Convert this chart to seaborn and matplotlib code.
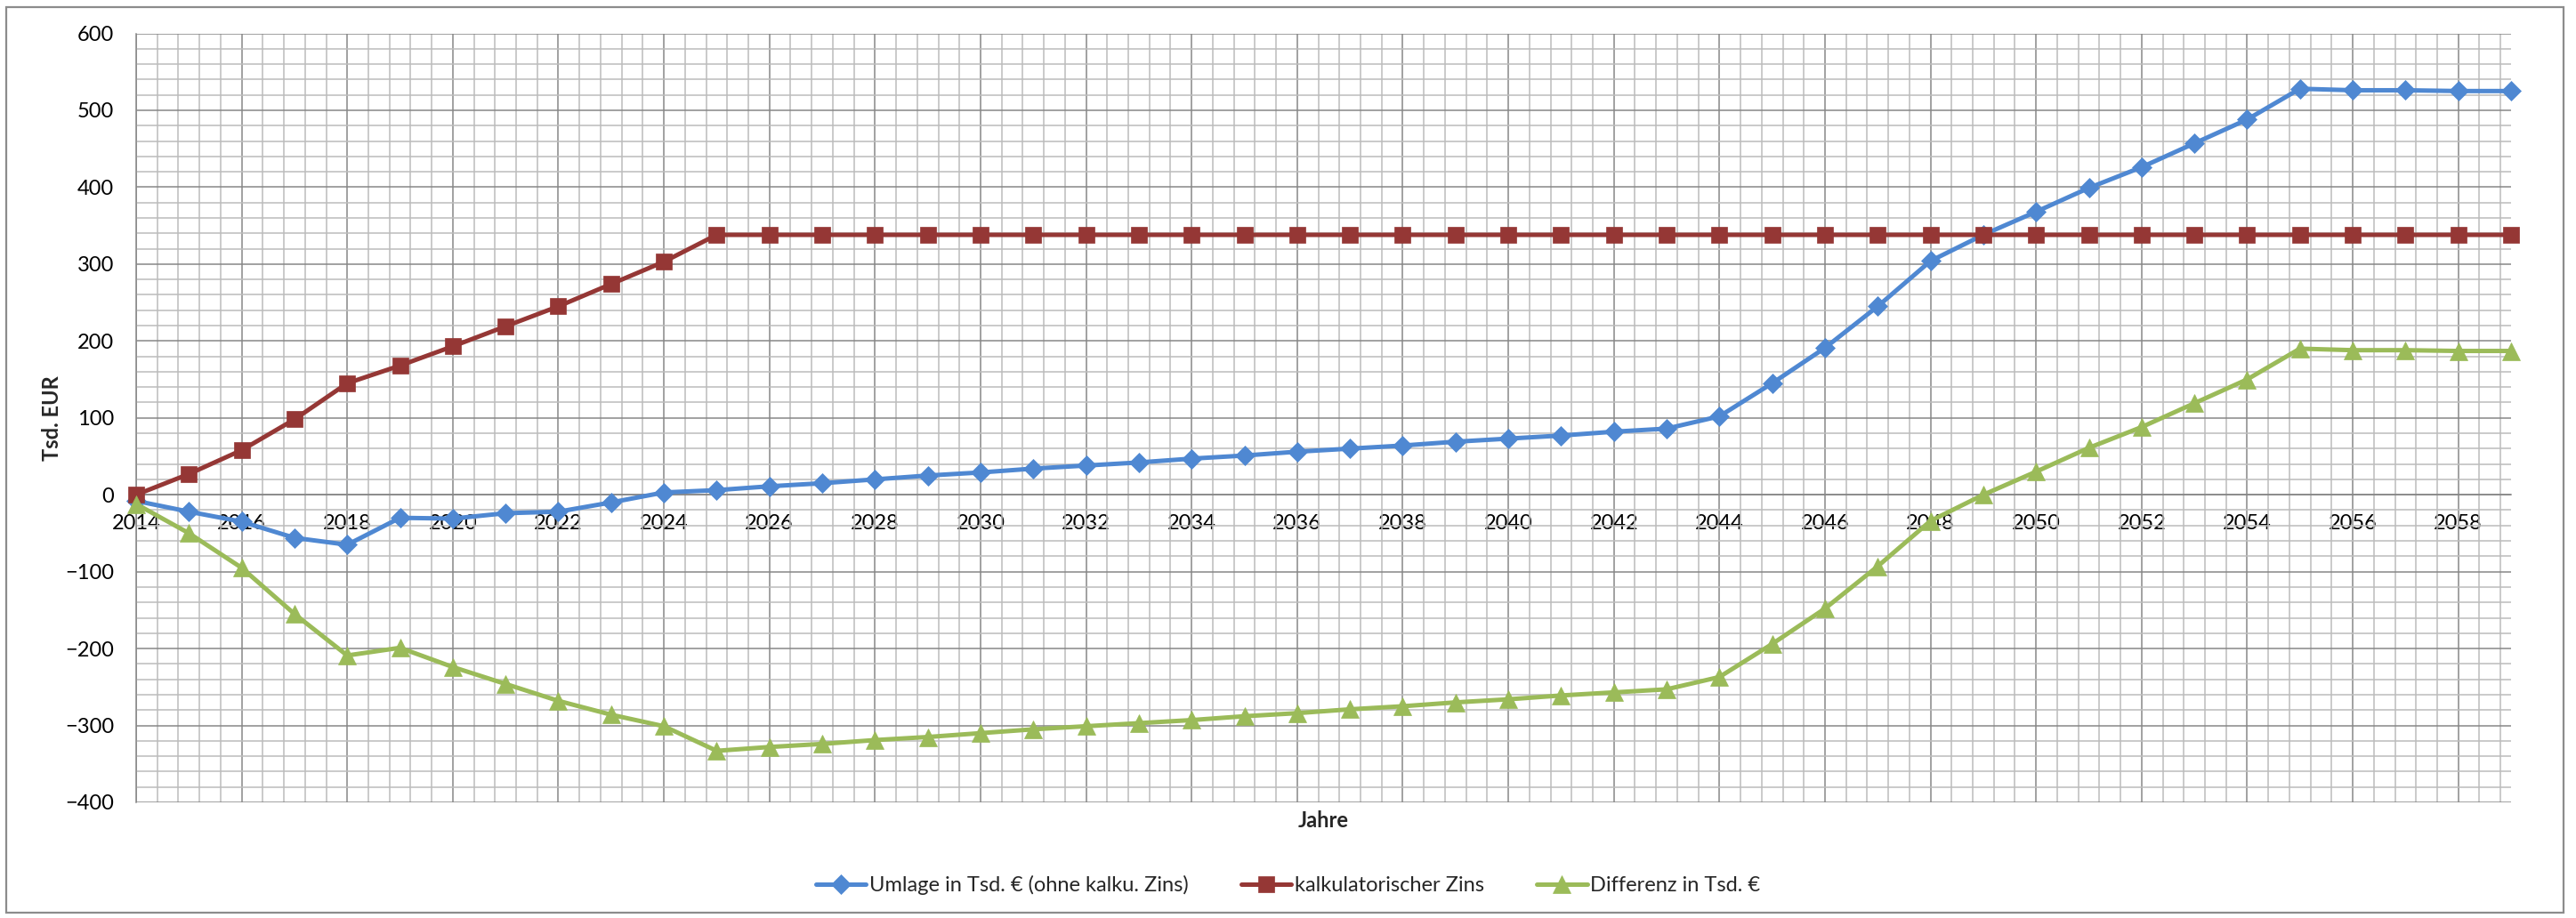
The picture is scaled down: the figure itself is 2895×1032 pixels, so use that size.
import matplotlib
matplotlib.use("Agg")
import matplotlib.pyplot as plt
from matplotlib.ticker import MultipleLocator
from matplotlib.patches import Rectangle
import seaborn as sns
import pandas as pd

years = list(range(2014, 2060))

umlage = [-8, -22, -35, -56, -65, -30, -31, -24, -22, -10,
          3, 6, 11, 15, 20, 25, 29, 34, 38, 42,
          47, 51, 56, 60, 64, 69, 73, 77, 82, 86,
          102, 145, 191, 245, 304, 338, 368, 399, 426, 457,
          488, 528, 526, 526, 525, 525]

zins = [0, 27, 58, 98, 145, 168, 193, 219, 245, 274,
        303, 338, 338, 338, 338, 338, 338, 338, 338, 338,
        338, 338, 338, 338, 338, 338, 338, 338, 338, 338,
        338, 338, 338, 338, 338, 338, 338, 338, 338, 338,
        338, 338, 338, 338, 338, 338]

differenz = [-12, -50, -95, -155, -209, -199, -224, -246, -268, -286,
             -301, -333, -328, -324, -319, -315, -310, -305, -301, -297,
             -293, -288, -284, -279, -275, -270, -266, -261, -257, -253,
             -237, -194, -148, -93, -34, 0, 30, 61, 88, 119,
             150, 190, 188, 188, 187, 187]

series_names = ["Umlage in Tsd. € (ohne kalku. Zins)",
                "kalkulatorischer Zins",
                "Differenz in Tsd. €"]
series_colors = ["#4F88D2", "#953735", "#9BBB59"]
series_markers = ["D", "s", "^"]
series_msize = [11.0, 13.5, 14.5]

y_label = "Tsd. EUR"
x_label = "Jahre"

df = pd.DataFrame({"Jahr": years, series_names[0]: umlage,
                   series_names[1]: zins, series_names[2]: differenz})

sns.set_style("white")
plt.rcParams["font.family"] = ["Lato", "DejaVu Sans"]

W, H = 2895, 1032
fig = plt.figure(figsize=(W / 100, H / 100), dpi=100)
ax = fig.add_axes([153 / W, 1 - 902 / H, (2822 - 153) / W, (902 - 37.5) / H])

# one line per series, markers drawn over the grid and allowed past the edges
for name, col, mk, ms in zip(series_names, series_colors, series_markers, series_msize):
    sns.lineplot(data=df, x="Jahr", y=name, ax=ax, color=col, marker=mk,
                 markersize=ms, markeredgewidth=0.5, markeredgecolor=col,
                 linewidth=3.6, label=name, clip_on=False, zorder=3)

ax.set_xlim(2014, 2059)
ax.set_ylim(-400, 600)
ax.xaxis.set_major_locator(MultipleLocator(2))
ax.xaxis.set_minor_locator(MultipleLocator(0.4))
ax.yaxis.set_major_locator(MultipleLocator(100))
ax.yaxis.set_minor_locator(MultipleLocator(20))

ax.set_axisbelow(True)
ax.grid(which="major", color="#878787", linewidth=1.1)
ax.grid(which="minor", color="#bcbcbc", linewidth=1.1)

for s in ["top", "right"]:
    ax.spines[s].set_visible(False)
ax.spines["left"].set_color("#878787")
ax.spines["left"].set_linewidth(1.1)
ax.spines["bottom"].set_position(("data", 0))
ax.spines["bottom"].set_color("#878787")
ax.spines["bottom"].set_linewidth(1.1)

ax.tick_params(axis="y", which="major", length=6, width=1.1, color="#878787",
               pad=12, labelsize=17, labelcolor="black")
ax.tick_params(axis="y", which="minor", length=0)
ax.tick_params(axis="x", which="both", length=0, pad=16, labelsize=17,
               labelcolor="black")
ax.set_xlabel("")
ax.set_ylabel("")

fig.text((153 + 2822) / 2 / W, 1 - 922 / H, x_label, ha="center", va="center",
         fontsize=17, fontweight="bold")
fig.text(58 / W, 1 - 470 / H, y_label, ha="center", va="center", rotation=90,
         fontsize=17, fontweight="bold")

handles, labels = ax.get_legend_handles_labels()
ax.get_legend().remove()
fig.legend(handles, labels, loc="center", bbox_to_anchor=(0.5, 1 - 995 / H),
           ncol=3, frameon=False, fontsize=17, handlelength=2.4,
           handletextpad=0.15, columnspacing=2.5, markerscale=1.0)

# chart-area frame
fig.add_artist(Rectangle((7 / W, 1 - 1026 / H), (2881 - 7) / W, (1026 - 8) / H,
                         transform=fig.transFigure, fill=False,
                         edgecolor="#8c8c8c", linewidth=1.6))

fig.savefig("out.png", dpi=100)
